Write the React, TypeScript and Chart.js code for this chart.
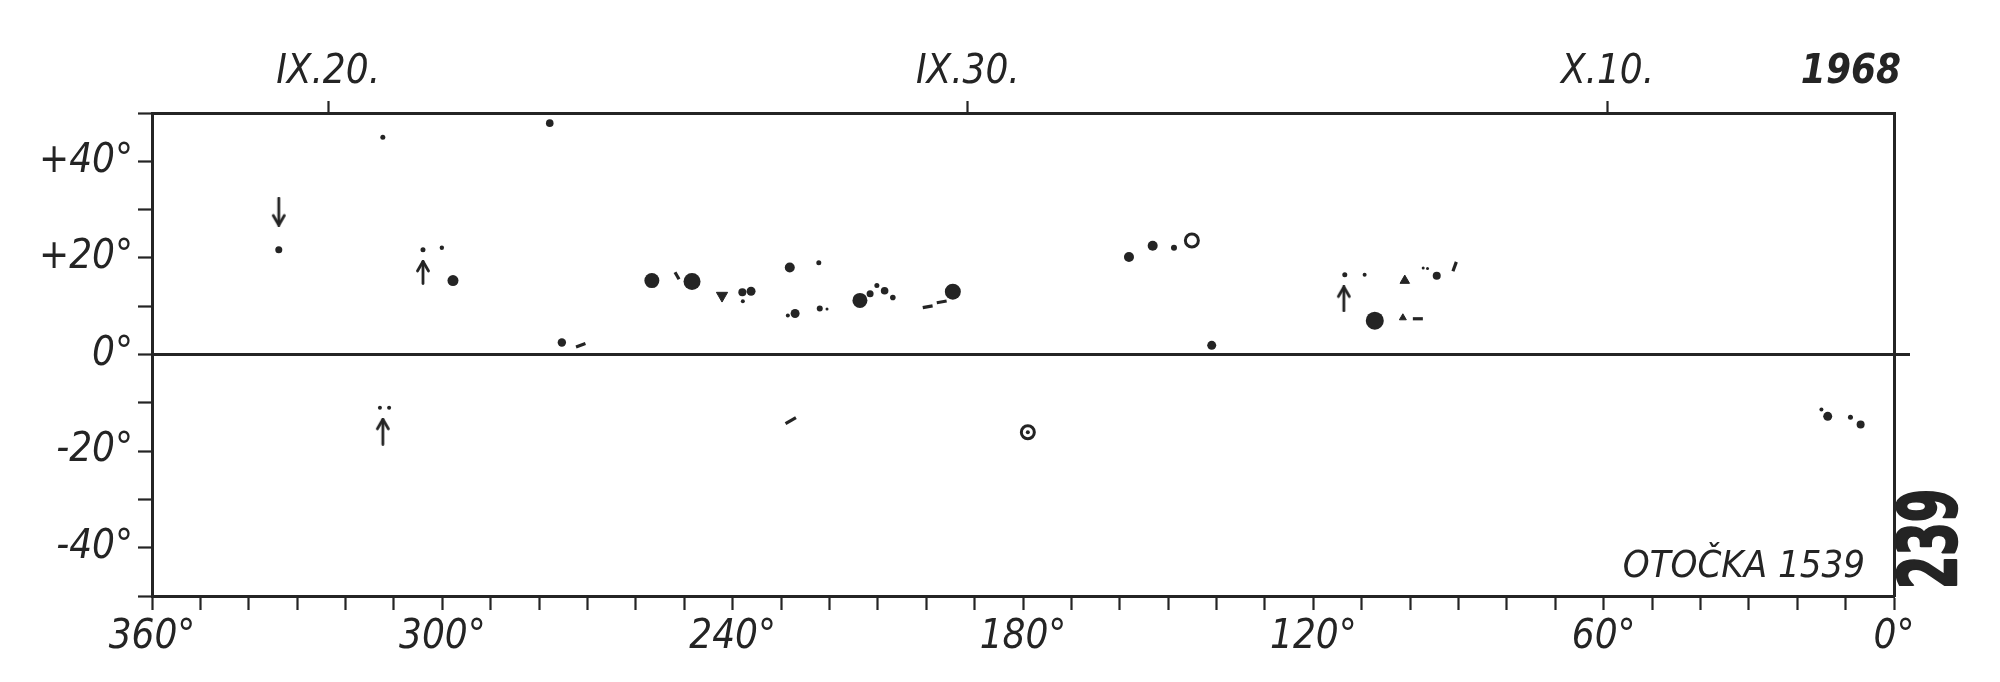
import React, { useEffect, useRef } from 'react';
import { Chart, registerables } from 'chart.js';

Chart.register(...registerables);

const INK = '#242424';
const FONT = "'DejaVu Sans Condensed', 'Liberation Sans Narrow', 'DejaVu Sans', sans-serif";

// Axis ticks
const lonTickStep = 10;
const latTickStep = 10;
const dateTickLons = [323.6, 191.4, 59.2, 8.9];
const dateTickLabels = ['IX.20.', 'IX.30.', 'X.10.', '1968'];

// Filled spots
const dotLon = [333.8, 300.1, 297.8, 275.3, 256.7, 248.4, 238.0, 236.2, 237.9, 228.2, 222.2, 227.1, 228.6, 222.0, 220.5, 213.7, 211.6, 210.2, 208.6, 206.9, 194.5, 158.1, 153.2, 148.8, 141.0, 113.5, 109.4, 107.3, 94.5, 96.4, 97.3, 15.0, 13.7, 9.0, 6.9, 312.9, 311.0, 277.8, 312.3, 304.0, 179.0];
const dotLat = [21.7, 22.1, 15.3, 2.5, 15.3, 15.1, 12.9, 13.1, 11.0, 18.0, 19.0, 8.5, 8.1, 9.5, 9.4, 11.2, 12.6, 14.3, 13.2, 11.8, 13.0, 20.2, 22.5, 22.1, 1.9, 16.5, 16.5, 7.0, 16.3, 17.8, 17.9, -11.4, -12.8, -13.0, -14.5, -11.0, -11.0, 47.9, 45.0, 21.7, -16.1];
const dotSize = [3.5, 2.2, 5.5, 4.2, 7.5, 8.5, 4, 4.5, 2, 5, 2.5, 4.5, 2, 3, 1.5, 7.5, 3.5, 2.5, 3.8, 2.8, 8, 5, 5, 3, 4.5, 2.5, 2, 9, 4, 1.5, 1.5, 2, 4.5, 2.5, 4, 2, 2, 3.8, 2.5, 2.5, 2];

// Open rings
const ringLon = [145.1, 179.0];
const ringLat = [23.6, -16.1];
const ringSize = [6.5, 6.5];

// Triangles
const triLon = [242.2, 101.1, 101.5];
const triLat = [12.2, 15.3, 7.6];
const triSize = [6.5, 5.5, 4];
const triRot = [180, 0, 0];

// Short strokes
const dashLon = [271.4, 228.0, 199.7, 196.8, 98.4, 90.8, 251.5];
const dashLat = [1.9, -13.7, 9.9, 10.9, 7.4, 18.2, 16.3];
const dashSize = [5, 6, 5, 5, 5, 5, 4];
const dashRot = [-20, -30, -10, -10, 0, -70, 60];

// Arrows
const arrowLon = [333.8, 304.0, 312.3, 113.7];
const arrowLat = [29.6, 17.0, -16.0, 11.5];
const arrowLen = [28, 23, 26, 25];
const arrowUp = [false, true, true, true];

function makeArrow(len: number, up: boolean): HTMLCanvasElement {
  const w = 16;
  const h = Math.round(len + 2);
  const c = document.createElement('canvas');
  c.width = w;
  c.height = h;
  const g = c.getContext('2d')!;
  g.strokeStyle = INK;
  g.lineWidth = 2.8;
  g.lineCap = 'round';
  g.lineJoin = 'round';
  const cx = w / 2;
  const tip = up ? 1.5 : h - 1.5;
  const tail = up ? h - 1.5 : 1.5;
  const dir = up ? 1 : -1;
  g.beginPath();
  g.moveTo(cx, tail);
  g.lineTo(cx, tip);
  g.stroke();
  g.beginPath();
  g.moveTo(cx - 5.5, tip + dir * 9.5);
  g.lineTo(cx, tip);
  g.lineTo(cx + 5.5, tip + dir * 9.5);
  g.stroke();
  return c;
}

const pts = (xs: number[], ys: number[]) => xs.map((x, i) => ({ x, y: ys[i] }));

const textPlugin = {
  id: 'annotText',
  afterDraw(chart: any) {
    const ctx = chart.ctx as CanvasRenderingContext2D;
    ctx.save();
    ctx.fillStyle = INK;
    ctx.font = `italic 38px ${FONT}`;
    ctx.textAlign = 'right';
    ctx.textBaseline = 'alphabetic';
    ctx.fillText('OTOČKA 1539', chart.chartArea.right - 29, chart.chartArea.bottom - 19);
    ctx.restore();

    ctx.save();
    ctx.fillStyle = INK;
    ctx.strokeStyle = INK;
    ctx.lineWidth = 2.5;
    ctx.lineJoin = 'round';
    ctx.font = `bold 80px ${FONT}`;
    const label = '239';
    const w = ctx.measureText(label).width;
    ctx.translate(chart.chartArea.right + 41, chart.chartArea.bottom - 57);
    ctx.rotate(-Math.PI / 2);
    ctx.scale(100 / w, 1);
    ctx.textAlign = 'center';
    ctx.textBaseline = 'middle';
    ctx.fillText(label, 0, 0);
    ctx.strokeText(label, 0, 0);
    ctx.restore();
  },
};

export default function App() {
  const ref = useRef<HTMLCanvasElement | null>(null);

  useEffect(() => {
    document.body.style.margin = '0';
    document.body.style.background = '#ffffff';
    const canvas = ref.current!;
    const tickFont = { family: FONT, size: 40, style: 'italic' as const, weight: 'normal' as const };

    const chart = new Chart(canvas, {
      type: 'scatter',
      data: {
        datasets: [
          {
            label: 'spots',
            data: pts(dotLon, dotLat),
            pointRadius: dotSize,
            pointBackgroundColor: INK,
            pointBorderWidth: 0,
            pointStyle: 'circle',
          },
          {
            label: 'strokes',
            data: pts(dashLon, dashLat),
            pointRadius: dashSize,
            pointStyle: 'line',
            pointBorderColor: INK,
            pointBorderWidth: 3.2,
            rotation: dashRot,
          } as any,
          {
            label: 'triangles',
            data: pts(triLon, triLat),
            pointRadius: triSize,
            pointStyle: 'triangle',
            pointBackgroundColor: INK,
            pointBorderColor: INK,
            pointBorderWidth: 1,
            rotation: triRot,
          } as any,
          {
            label: 'rings',
            data: pts(ringLon, ringLat),
            pointRadius: ringSize,
            pointStyle: 'circle',
            pointBackgroundColor: '#ffffff',
            pointBorderColor: INK,
            pointBorderWidth: 3,
          },
          {
            label: 'arrows',
            data: pts(arrowLon, arrowLat),
            pointStyle: arrowLen.map((l, i) => makeArrow(l, arrowUp[i])),
            pointRadius: 10,
          } as any,
        ],
      },
      options: {
        responsive: false,
        animation: false,
        devicePixelRatio: 1,
        layout: { padding: { left: 0, right: 106, top: 0, bottom: 0 } },
        plugins: {
          legend: { display: false },
          tooltip: { enabled: false },
          title: { display: false },
        },
        events: [],
        scales: {
          x: {
            type: 'linear',
            position: 'bottom',
            min: 0,
            max: 360,
            reverse: true,
            ticks: {
              stepSize: lonTickStep,
              autoSkip: false,
              maxRotation: 0,
              color: INK,
              font: tickFont,
              padding: 4,
              callback: (v: any) => (Number(v) % 60 === 0 ? `${v}°` : ''),
            },
            grid: { drawOnChartArea: false, tickLength: 14, tickColor: INK, tickWidth: 2.2 },
            border: { display: true, color: INK, width: 3 },
            afterFit: (s: any) => {
              s.height = 86;
            },
          },
          x2: {
            type: 'linear',
            position: 'top',
            min: 0,
            max: 360,
            reverse: true,
            afterBuildTicks: (s: any) => {
              s.ticks = dateTickLons.map((value) => ({ value }));
            },
            ticks: {
              autoSkip: false,
              maxRotation: 0,
              color: INK,
              padding: 4,
              font: (c: any) => ({ ...tickFont, weight: c.index === 3 ? 'bold' : 'normal' }),
              callback: (_v: any, i: number) => dateTickLabels[i],
            },
            grid: {
              drawOnChartArea: false,
              tickLength: 12,
              tickWidth: 2.2,
              tickColor: (c: any) => (c.index === 3 ? 'rgba(0,0,0,0)' : INK),
            },
            border: { display: true, color: INK, width: 3 },
            afterFit: (s: any) => {
              s.height = 113;
            },
          },
          y: {
            type: 'linear',
            position: 'left',
            min: -50,
            max: 50,
            ticks: {
              stepSize: latTickStep,
              autoSkip: false,
              color: INK,
              font: tickFont,
              padding: 5,
              callback: (v: any) => {
                const n = Number(v);
                if (n % 20 !== 0 || Math.abs(n) === 50) return '';
                return `${n > 0 ? '+' : ''}${n}°`;
              },
            },
            grid: {
              drawOnChartArea: true,
              color: (c: any) => (c.tick && c.tick.value === 0 ? INK : 'rgba(0,0,0,0)'),
              lineWidth: 3,
              tickColor: INK,
              tickLength: 14,
              tickWidth: 2.2,
            },
            border: { display: true, color: INK, width: 3 },
            afterFit: (s: any) => {
              s.width = 152;
            },
          },
          y2: {
            type: 'linear',
            position: 'right',
            min: -50,
            max: 50,
            afterBuildTicks: (s: any) => {
              s.ticks = [{ value: 0 }];
            },
            ticks: { display: false },
            grid: { drawOnChartArea: false, tickLength: 16, tickColor: INK, tickWidth: 3 },
            border: { display: true, color: INK, width: 3 },
            afterFit: (s: any) => {
              s.width = 0;
            },
          },
        },
      } as any,
      plugins: [textPlugin],
    });

    return () => {
      chart.destroy();
    };
  }, []);

  return (
    <div style={{ width: 2000, height: 682, background: '#ffffff' }}>
      <canvas ref={ref} width={2000} height={682} style={{ display: 'block' }} />
    </div>
  );
}
